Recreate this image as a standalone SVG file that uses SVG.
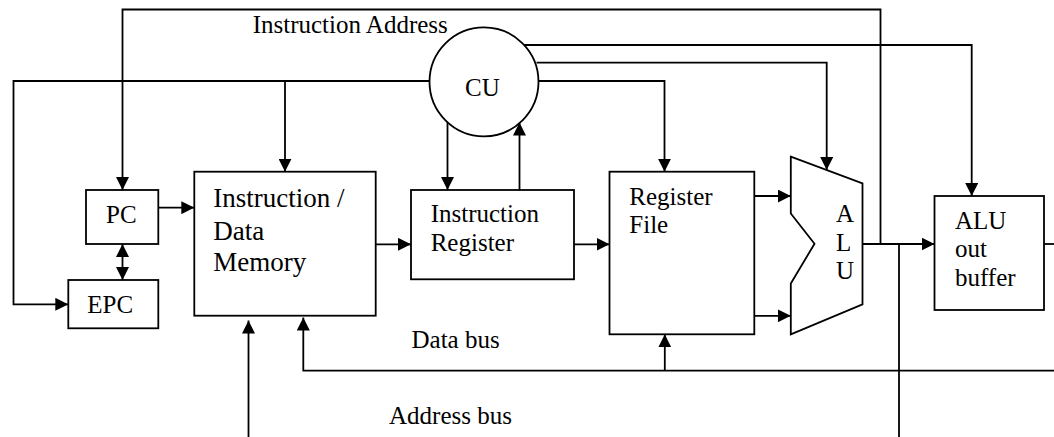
<svg xmlns="http://www.w3.org/2000/svg" width="1054" height="437" viewBox="0 0 1054 437">
  <style>
    .box { fill: #fff; stroke: #000; stroke-width: 1.8; }
    .wire { fill: none; stroke: #000; stroke-width: 1.8; }
    .lbl { font-family: "Liberation Serif", "Times New Roman", serif; font-size: 25px; fill: #000; }
    .big { font-size: 27px; }
  </style>
  <defs>
    <marker id="arrow" markerUnits="userSpaceOnUse" viewBox="0 0 13 13" markerWidth="13" markerHeight="13" refX="13" refY="6.5" orient="auto-start-reverse">
      <path d="M0,0 L13,6.5 L0,13 Z" fill="#000"/>
    </marker>
  </defs>

  <rect width="1054" height="437" fill="#fff"/>

  <!-- wiring between the blocks -->
  <g id="connectors">
    <!-- instruction address loop back to the PC -->
    <path class="wire" d="M880.5,244 V9.5 H122.5 V190" marker-end="url(#arrow)"/>
    <!-- CU control lines -->
    <path class="wire" d="M429.5,81 H13.5 V304.3 H68.3" marker-end="url(#arrow)"/>
    <path class="wire" d="M285,81 V171.7" marker-end="url(#arrow)"/>
    <path class="wire" d="M447.5,117 V190" marker-end="url(#arrow)"/>
    <path class="wire" d="M519.5,190 V122.5" marker-end="url(#arrow)"/>
    <path class="wire" d="M538.5,81 H664.5 V171.7" marker-end="url(#arrow)"/>
    <path class="wire" d="M536.5,62.7 H826.7 V170" marker-end="url(#arrow)"/>
    <path class="wire" d="M519.3,45 H971.7 V196" marker-end="url(#arrow)"/>
    <!-- data path -->
    <path class="wire" d="M158.3,207.7 H194.3" marker-end="url(#arrow)"/>
    <path class="wire" d="M122.5,244 V280" marker-start="url(#arrow)" marker-end="url(#arrow)"/>
    <path class="wire" d="M375.7,244.3 H411" marker-end="url(#arrow)"/>
    <path class="wire" d="M574,244.3 H609.5" marker-end="url(#arrow)"/>
    <path class="wire" d="M754.3,196 H790.8" marker-end="url(#arrow)"/>
    <path class="wire" d="M754.3,315.8 H790.8" marker-end="url(#arrow)"/>
    <path class="wire" d="M862.5,244 H934.5" marker-end="url(#arrow)"/>
    <path class="wire" d="M1044,244 H1054"/>
    <path class="wire" d="M899,244 V437"/>
    <!-- address bus -->
    <path class="wire" d="M248.5,437 V320.5" marker-end="url(#arrow)"/>
    <!-- data bus -->
    <path class="wire" d="M1054,370.7 H303.3 V317.5" marker-end="url(#arrow)"/>
    <path class="wire" d="M664.8,370.7 V334.3" marker-end="url(#arrow)"/>
  </g>

  <g id="cu">
    <circle class="box" cx="484" cy="81.8" r="54.5"/>
    <text class="lbl" x="465" y="96">CU</text>
  </g>

  <g id="pc">
    <rect class="box" x="86" y="190" width="72.3" height="54"/>
    <text class="lbl" x="106" y="223.3">PC</text>
  </g>

  <g id="epc">
    <rect class="box" x="68.3" y="280" width="90" height="48.3"/>
    <text class="lbl" x="87.3" y="313.3">EPC</text>
  </g>

  <g id="memory">
    <rect class="box" x="194.3" y="171.7" width="181.4" height="144"/>
    <text class="lbl big" x="213.3" y="207.3">Instruction /</text>
    <text class="lbl big" x="213.3" y="239.5">Data</text>
    <text class="lbl big" x="213.3" y="271">Memory</text>
  </g>

  <g id="instruction-register">
    <rect class="box" x="411" y="190" width="163" height="89.3"/>
    <text class="lbl" x="430.7" y="222.3">Instruction</text>
    <text class="lbl" x="430.7" y="251">Register</text>
  </g>

  <g id="register-file">
    <rect class="box" x="609.5" y="171.7" width="144.8" height="162.6"/>
    <text class="lbl" x="629.3" y="205">Register</text>
    <text class="lbl" x="629.3" y="233.3">File</text>
  </g>

  <g id="alu">
    <polygon class="box" points="790.8,156.7 862.5,183.3 862.5,304.3 790.8,334.3 790.8,283.5 814.5,243.8 790.8,213.5"/>
    <text class="lbl" x="836" y="221.7">A</text>
    <text class="lbl" x="836" y="250.7">L</text>
    <text class="lbl" x="836" y="279.3">U</text>
  </g>

  <g id="alu-out-buffer">
    <rect class="box" x="934.5" y="196" width="109.5" height="114"/>
    <text class="lbl" x="955" y="229">ALU</text>
    <text class="lbl" x="955" y="257.3">out</text>
    <text class="lbl" x="955" y="286">buffer</text>
  </g>

  <g id="bus-labels">
    <text class="lbl" x="252.7" y="33.3">Instruction Address</text>
    <text class="lbl" x="411.5" y="348.3">Data bus</text>
    <text class="lbl" x="389" y="424">Address bus</text>
  </g>
</svg>
